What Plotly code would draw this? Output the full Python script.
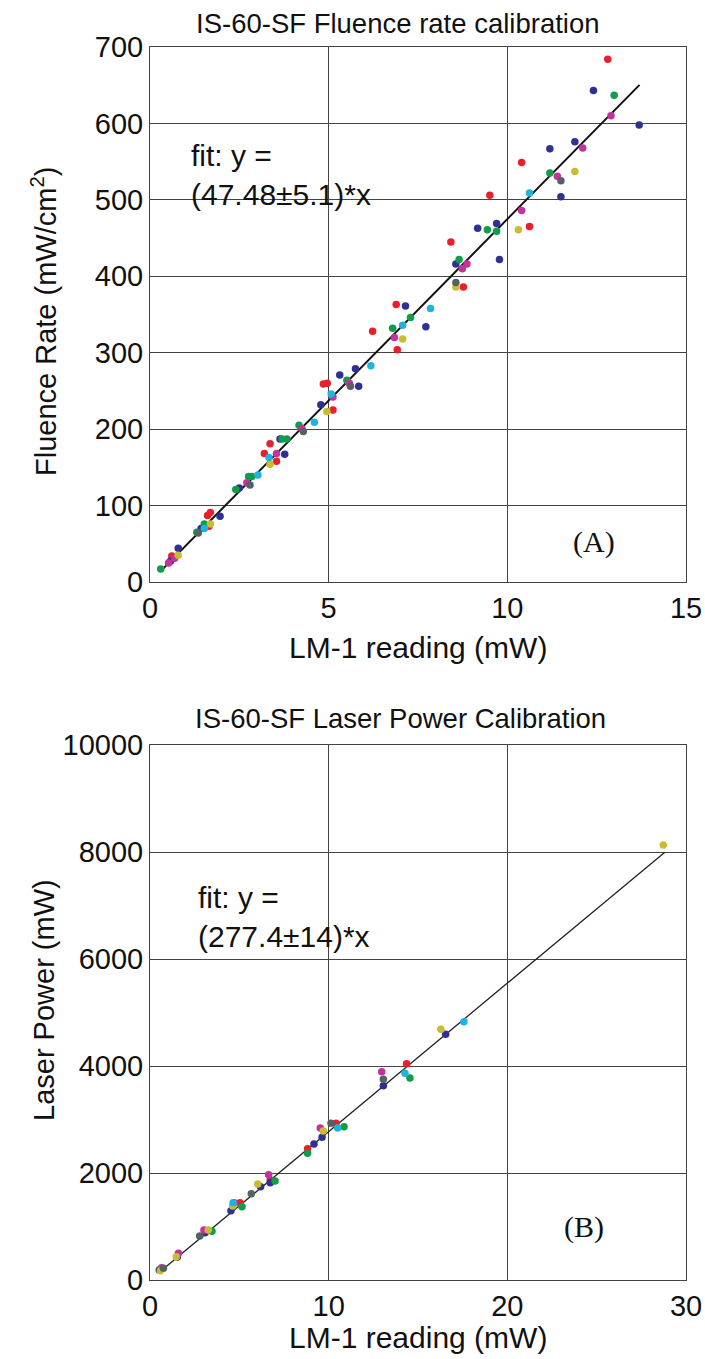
import plotly.graph_objects as go

# ---------------- Data: panel A (Fluence rate) ----------------
a_red_x = [12.81, 10.40, 9.51, 10.62, 8.42, 8.77, 6.89, 6.23, 6.92, 4.85, 4.96, 5.12, 3.36, 3.20, 3.54, 1.61, 1.69, 1.65, 0.61]
a_red_y = [684, 549, 506, 465, 445, 386, 363, 328, 304, 259, 260, 225, 181, 168, 158, 87, 91, 73, 34]
a_blue_x = [12.41, 13.69, 11.89, 11.19, 11.50, 9.70, 9.17, 8.56, 9.78, 7.15, 7.72, 5.31, 5.75, 5.84, 4.78, 3.64, 3.77, 2.50, 1.96, 1.43, 0.79, 0.57]
a_blue_y = [643, 598, 576, 567, 504, 469, 463, 416, 422, 361, 334, 271, 279, 256, 232, 187, 167, 123, 86, 70, 44, 27]
a_green_x = [12.99, 11.19, 9.44, 9.70, 8.65, 6.79, 7.29, 5.51, 4.17, 3.70, 3.83, 2.76, 2.85, 2.40, 1.52, 1.31, 0.30]
a_green_y = [637, 535, 461, 459, 422, 332, 346, 264, 205, 187, 187, 138, 138, 121, 76, 65, 17]
a_mag_x = [12.90, 12.11, 11.40, 10.40, 8.74, 8.87, 6.84, 5.58, 5.12, 4.25, 3.54, 2.71, 0.69, 0.52]
a_mag_y = [610, 568, 531, 486, 410, 416, 320, 260, 242, 201, 168, 130, 31, 25]
a_yel_x = [11.89, 10.31, 8.56, 7.07, 4.95, 3.36, 1.69, 0.79]
a_yel_y = [537, 461, 386, 318, 223, 154, 76, 35]
a_cyan_x = [10.62, 7.85, 7.07, 6.18, 5.07, 4.60, 3.33, 3.02, 1.52]
a_cyan_y = [509, 358, 336, 283, 246, 209, 163, 140, 70]
a_gray_x = [11.50, 8.56, 5.61, 4.29, 2.80, 1.35]
a_gray_y = [525, 392, 256, 197, 127, 64]
a_fit_x = [0.3, 13.7]
a_slope = 47.48
a_xticks = [0, 5, 10, 15]
a_yticks = [0, 100, 200, 300, 400, 500, 600, 700]

# ---------------- Data: panel B (Laser power) ----------------
b_red_x = [14.36, 10.41, 8.82, 6.73, 5.04]
b_red_y = [4044, 2928, 2455, 1869, 1445]
b_blue_x = [16.55, 13.06, 9.63, 9.18, 6.19, 6.73, 4.53, 3.08, 1.53, 0.52]
b_blue_y = [4592, 3632, 2667, 2542, 1745, 1819, 1296, 885, 430, 187]
b_green_x = [14.55, 10.86, 8.82, 7.00, 5.15, 3.47]
b_green_y = [3776, 2866, 2368, 1850, 1370, 910]
b_mag_x = [12.97, 9.53, 6.64, 4.72, 3.02, 1.59, 0.65]
b_mag_y = [3894, 2841, 1969, 1445, 935, 499, 230]
b_yel_x = [28.73, 16.28, 9.70, 6.03, 4.63, 3.26, 1.47, 0.58]
b_yel_y = [8131, 4686, 2785, 1794, 1383, 935, 436, 175]
b_cyan_x = [17.57, 14.27, 10.50, 4.65]
b_cyan_y = [4828, 3863, 2841, 1445]
b_gray_x = [13.06, 10.13, 5.67, 2.78, 0.75]
b_gray_y = [3751, 2928, 1614, 822, 218]
b_fit_x = [0.5, 28.8]
b_slope = 277.4
b_xticks = [0, 10, 20, 30]
b_yticks = [0, 2000, 4000, 6000, 8000, 10000]

COLORS = {"red": "#e8202a", "blue": "#2e3192", "green": "#0f9d4a", "mag": "#c4339d",
          "yel": "#c9bd2f", "cyan": "#1fb3e0", "gray": "#566262"}

FONT = "Liberation Sans, Arial, sans-serif"
SERIF = "Liberation Serif, Times New Roman, serif"
fig = go.Figure()

def add_group(x, y, color, xa, ya):
    fig.add_trace(go.Scatter(x=x, y=y, mode="markers", xaxis=xa, yaxis=ya,
                             marker=dict(size=7.5, color=color, line=dict(width=0)),
                             showlegend=False))

# fit lines
fig.add_trace(go.Scatter(x=a_fit_x, y=[a_slope * v for v in a_fit_x], mode="lines",
                         line=dict(color="#111111", width=2), xaxis="x", yaxis="y", showlegend=False))
fig.add_trace(go.Scatter(x=b_fit_x, y=[b_slope * v for v in b_fit_x], mode="lines",
                         line=dict(color="#222222", width=1.3), xaxis="x2", yaxis="y2", showlegend=False))

for (x, y, c) in [(a_red_x, a_red_y, "red"), (a_blue_x, a_blue_y, "blue"), (a_green_x, a_green_y, "green"),
                  (a_mag_x, a_mag_y, "mag"), (a_yel_x, a_yel_y, "yel"), (a_cyan_x, a_cyan_y, "cyan"),
                  (a_gray_x, a_gray_y, "gray")]:
    add_group(x, y, COLORS[c], "x", "y")
for (x, y, c) in [(b_red_x, b_red_y, "red"), (b_blue_x, b_blue_y, "blue"), (b_green_x, b_green_y, "green"),
                  (b_mag_x, b_mag_y, "mag"), (b_yel_x, b_yel_y, "yel"), (b_cyan_x, b_cyan_y, "cyan"),
                  (b_gray_x, b_gray_y, "gray")]:
    add_group(x, y, COLORS[c], "x2", "y2")

axis_common = dict(showgrid=True, gridcolor="#444444", gridwidth=1, showline=True, linecolor="#444444",
                   linewidth=1, mirror=True, ticks="inside", ticklen=5, tickcolor="#444444",
                   zeroline=False, automargin=False,
                   tickfont=dict(family=FONT, size=29, color="#111111"))

H, W = 1359, 705
L, R = 150, 19
top = 47
bottom = 79
ph = H - top - bottom
pw = W - L - R

def dom(y0, y1):
    return [1 - (y1 - top) / ph, 1 - (y0 - top) / ph]

def px(xp, yp):
    return (xp - L) / pw, 1 - (yp - top) / ph

def text_ann(text, xp, yp, size, angle=0, family=FONT):
    x, y = px(xp, yp)
    return dict(text=text, x=x, y=y, xref="paper", yref="paper", xanchor="center", yanchor="middle",
                showarrow=False, textangle=angle, font=dict(family=family, size=size, color="#111111"))

fig.update_layout(
    width=W, height=H, paper_bgcolor="white", plot_bgcolor="white",
    margin=dict(l=L, r=R, t=top, b=bottom),
    xaxis=dict(range=[0, 15], tickvals=a_xticks, ticktext=[str(v) for v in a_xticks], domain=[0, 1], anchor="y",
               **axis_common),
    yaxis=dict(range=[0, 700], tickvals=a_yticks, ticktext=[str(v) for v in a_yticks], domain=dom(47, 582),
               anchor="x", **axis_common),
    xaxis2=dict(range=[0, 30], tickvals=b_xticks, ticktext=[str(v) for v in b_xticks], domain=[0, 1], anchor="y2",
                **axis_common),
    yaxis2=dict(range=[0, 10000], tickvals=b_yticks, ticktext=[str(v) for v in b_yticks], domain=dom(745, 1280),
                anchor="x2", **axis_common),
    annotations=[
        text_ann("IS-60-SF Fluence rate calibration", 398, 23, 27.5),
        text_ann("IS-60-SF Laser Power Calibration", 400, 718, 27.5),
        text_ann("LM-1 reading (mW)", 418, 647, 30),
        text_ann("LM-1 reading (mW)", 418, 1337, 30),
        text_ann("Fluence Rate (mW/cm<sup>2</sup>)", 44, 322, 29, angle=-90),
        text_ann("Laser Power (mW)", 44, 1000, 29, angle=-90),
        dict(text="fit: y =<br>(47.48±5.1)*x", x=1.09, y=582, xref="x", yref="y", xanchor="left", yanchor="top",
             align="left", showarrow=False, font=dict(family=FONT, size=30, color="#111111")),
        dict(text="fit: y =<br>(277.4±14)*x", x=2.6, y=7500, xref="x2", yref="y2", xanchor="left", yanchor="top",
             align="left", showarrow=False, font=dict(family=FONT, size=30, color="#111111")),
        dict(text="(A)", x=12.42, y=52, xref="x", yref="y", showarrow=False,
             font=dict(family=SERIF, size=30, color="#111111")),
        dict(text="(B)", x=24.3, y=990, xref="x2", yref="y2", showarrow=False,
             font=dict(family=SERIF, size=30, color="#111111")),
    ],
)

fig.write_html("out.html", config={"displayModeBar": False},
               post_script="document.body.style.margin='0';document.body.style.padding='0';")
